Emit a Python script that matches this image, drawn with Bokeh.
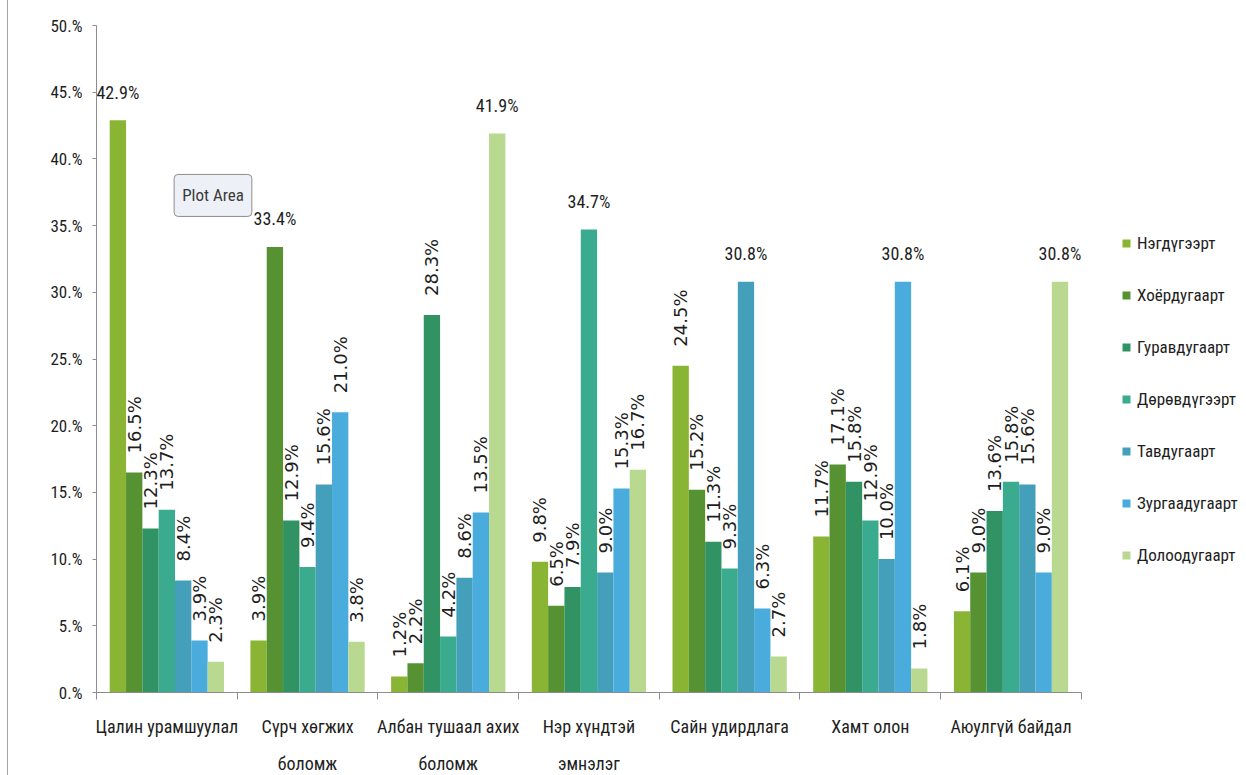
from bokeh.plotting import figure
from bokeh.models import (ColumnDataSource, Range1d, FixedTicker, Label,
                          Legend, LegendItem, Div)
from bokeh.layouts import row
from bokeh.core.properties import value
from bokeh.embed import file_html
from bokeh.resources import INLINE

# --- data -------------------------------------------------------------
categories = [
    "Цалин урамшуулал",
    "Сүрч хөгжих\nболомж",
    "Албан тушаал ахих\nболомж",
    "Нэр хүндтэй\nэмнэлэг",
    "Сайн удирдлага",
    "Хамт олон",
    "Аюулгүй байдал",
]
series_names = [
    "Нэгдүгээрт", "Хоёрдугаарт", "Гуравдугаарт", "Дөрөвдүгээрт",
    "Тавдугаарт", "Зургаадугаарт", "Долоодугаарт",
]
negdugeer = [42.9, 3.9, 1.2, 9.8, 24.5, 11.7, 6.1]
hoyordugaar = [16.5, 33.4, 2.2, 6.5, 15.2, 17.1, 9.0]
guravdugaar = [12.3, 12.9, 28.3, 7.9, 11.3, 15.8, 13.6]
dorovdugeer = [13.7, 9.4, 4.2, 34.7, 9.3, 12.9, 15.8]
tavdugaar = [8.4, 15.6, 8.6, 9.0, 30.8, 10.0, 15.6]
zurgaadugaar = [3.9, 21.0, 13.5, 15.3, 6.3, 30.8, 9.0]
doloodugaar = [2.3, 3.8, 41.9, 16.7, 2.7, 1.8, 30.8]
series_values = [negdugeer, hoyordugaar, guravdugaar, dorovdugeer,
                 tavdugaar, zurgaadugaar, doloodugaar]
series_colors = ["#8ab433", "#569232", "#319264", "#3aab8e",
                 "#449fba", "#49acdd", "#b8d98f"]
y_ticks = [0, 5, 10, 15, 20, 25, 30, 35, 40, 45, 50]
y_tick_labels = ["0.%", "5.%", "10.%", "15.%", "20.%", "25.%",
                 "30.%", "35.%", "40.%", "45.%", "50.%"]

NARROW = "Roboto Condensed"
AXIS_GRAY = "#8c8c8c"
TEXT = "#1e1e1e"
BAR_W = 0.116
n_groups = len(categories)
n_series = len(series_names)

p = figure(frame_width=1144, frame_height=667,
           x_range=Range1d(-0.5, 7.631), y_range=Range1d(0, 50),
           min_border_left=88, min_border_right=5,
           min_border_top=25, min_border_bottom=83,
           output_backend="svg", toolbar_location=None)
p.xgrid.visible = False
p.ygrid.visible = False
p.outline_line_color = None
p.background_fill_color = "white"
p.border_fill_color = "white"

# --- bars and value labels -------------------------------------------
group_max = [max(s[i] for s in series_values) for i in range(n_groups)]
items = []
for j, (name, vals, color) in enumerate(zip(series_names, series_values, series_colors)):
    xs = [i + (j - (n_series - 1) / 2) * BAR_W for i in range(n_groups)]
    texts = [f"{v:.1f}%" for v in vals]
    src = ColumnDataSource(dict(x=xs, top=vals, text=texts))
    r = p.vbar(x="x", top="top", width=BAR_W, source=src,
               fill_color=color, line_color=None)
    items.append(LegendItem(label=name, renderers=[r]))

    # the tallest bar of each group gets a horizontal label, the rest are rotated
    flat = [k for k in range(n_groups) if vals[k] != group_max[k]]
    peak = [k for k in range(n_groups) if vals[k] == group_max[k]]
    src_flat = ColumnDataSource(dict(x=[xs[k] for k in flat],
                                     y=[vals[k] for k in flat],
                                     text=[texts[k] for k in flat]))
    src_peak = ColumnDataSource(dict(x=[xs[k] for k in peak],
                                     y=[vals[k] for k in peak],
                                     text=[texts[k] for k in peak]))
    p.text(x="x", y="y", text="text", source=src_flat, angle=1.5708,
           text_align="left", text_baseline="middle", y_offset=-19,
           text_font=value("DejaVu Sans"), text_font_size="18px",
           text_color=TEXT)
    p.text(x="x", y="y", text="text", source=src_peak,
           text_align="center", text_baseline="alphabetic", y_offset=-28,
           text_font=value(NARROW), text_font_size="18px", text_color=TEXT)

# --- axes --------------------------------------------------------------
xa = p.xaxis[0]
xa.ticker = FixedTicker(ticks=list(range(n_groups)),
                        minor_ticks=[i - 0.5 for i in range(n_groups + 1)])
xa.major_label_overrides = {i: c for i, c in enumerate(categories)}
xa.bounds = (-0.5, n_groups - 0.5)
xa.major_tick_out = 0
xa.major_tick_in = 0
xa.minor_tick_out = 7
xa.minor_tick_in = 0
xa.minor_tick_line_color = AXIS_GRAY
xa.axis_line_color = AXIS_GRAY
xa.major_label_standoff = 16
xa.major_label_text_font = NARROW
xa.major_label_text_font_size = "18px"
xa.major_label_text_color = TEXT
xa.major_label_text_line_height = 1.8

ya = p.yaxis[0]
ya.ticker = FixedTicker(ticks=y_ticks, minor_ticks=[])
ya.major_label_overrides = dict(zip(y_ticks, y_tick_labels))
ya.bounds = (0, 50)
ya.major_tick_out = 4
ya.major_tick_in = 0
ya.major_tick_line_color = AXIS_GRAY
ya.axis_line_color = AXIS_GRAY
ya.major_label_standoff = 10
ya.major_label_text_font = NARROW
ya.major_label_text_font_size = "17px"
ya.major_label_text_color = TEXT

# --- legend ------------------------------------------------------------
legend = Legend(items=items, location=(1025, 127),
                glyph_width=10, glyph_height=10, label_height=20,
                spacing=32, padding=0, margin=0, label_standoff=6,
                label_text_font=NARROW, label_text_font_size="17px",
                label_text_color=TEXT, border_line_color=None,
                background_fill_alpha=0)
p.add_layout(legend)

# --- hover box left on the chart -------------------------------------------
p.add_layout(Label(x=0.328, y=37.26, text="Plot Area",
                   text_align="center", text_baseline="middle",
                   text_font=NARROW, text_font_size="17px", text_color="#3a3a3a",
                   background_fill_color="#eef0f7", border_line_color="#8d8d8d",
                   border_radius=4, padding=(8, 11)))

edge = Div(width=8, height=775, margin=0,
           styles={"border-right": "1px solid #a6a6a6"})
layout = row(edge, p, spacing=0)

open("out.html", "w").write(file_html(layout, INLINE))
